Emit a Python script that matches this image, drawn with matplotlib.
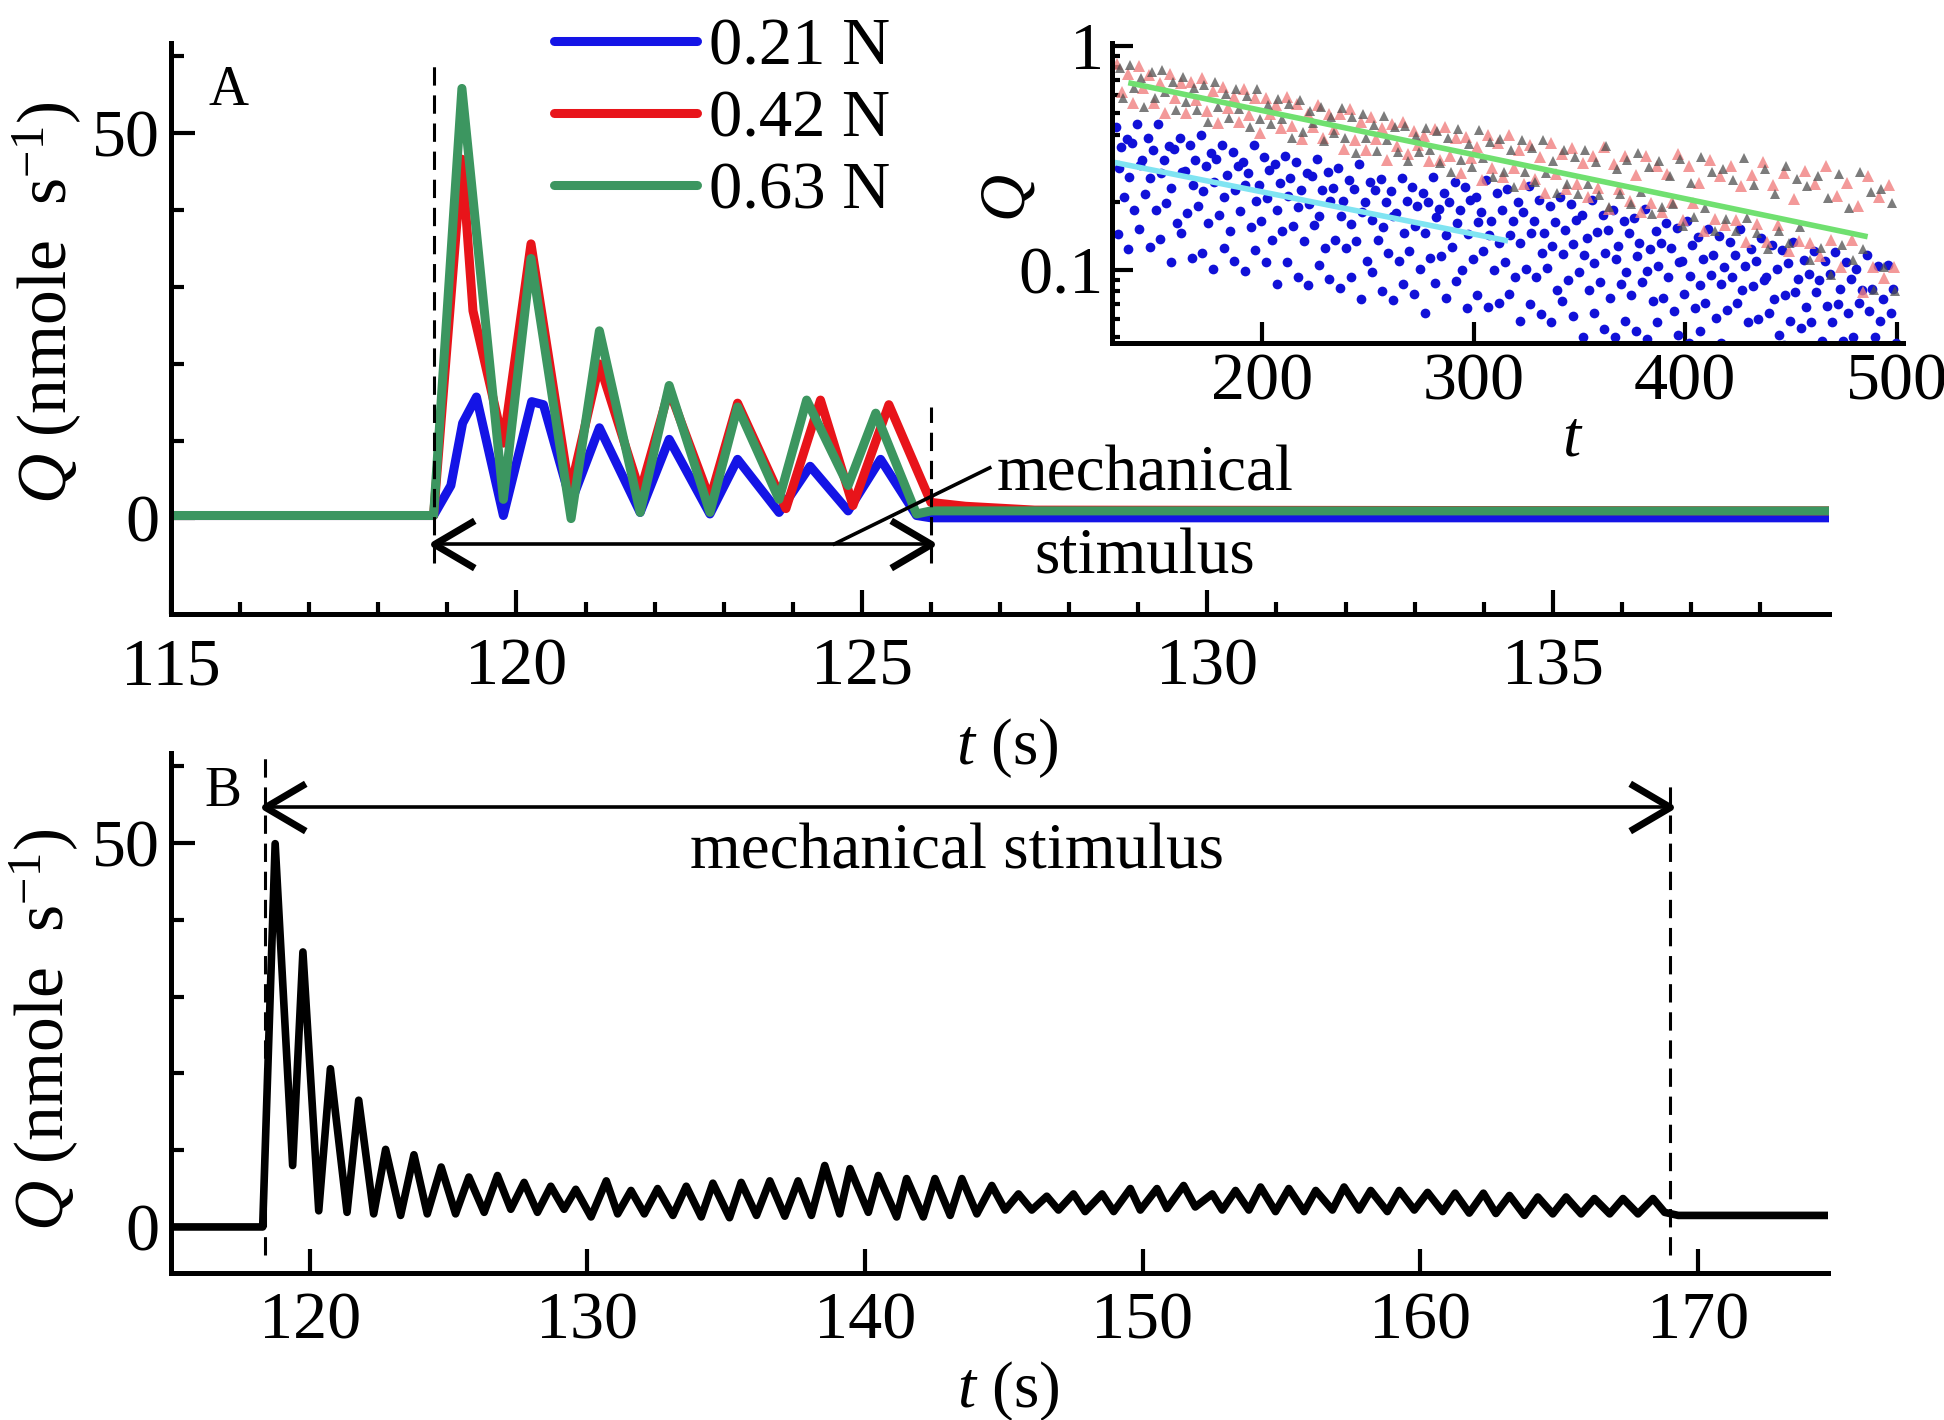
import numpy as np
import matplotlib
matplotlib.use("Agg")
import matplotlib.pyplot as plt
from matplotlib.path import Path
from matplotlib.markers import MarkerStyle
from matplotlib.ticker import FixedLocator, FixedFormatter, NullFormatter, LogLocator

plt.rcParams['font.family'] = ['Liberation Serif', 'DejaVu Serif']
plt.rcParams['mathtext.fontset'] = 'custom'
plt.rcParams['mathtext.rm'] = 'Liberation Serif'
plt.rcParams['mathtext.it'] = 'Liberation Serif:italic'
FS = 47      # annotation / label text
TFS = 49     # tick labels
plt.rcParams['font.size'] = FS

# ---------------- Panel A data (t in s, Q in nmole/s) ----------------
tA_021 = [115, 118.80, 119.05, 119.22, 119.42, 119.81, 120.22, 120.39, 120.79, 121.20,
          121.79, 122.21, 122.80, 123.20, 123.80, 124.25, 124.80, 125.27, 125.79, 126.00, 139]
qA_021 = [0.3, 0.3, 4.2, 12.3, 15.7, 0.3, 15.1, 14.7, 2.0, 11.7,
          0.7, 10.2, 0.5, 7.6, 0.7, 6.7, 0.9, 7.6, 0.3, 0.0, 0.0]

tA_042 = [115, 118.80, 119.21, 119.37, 119.81, 120.21, 120.77, 121.20, 121.79, 122.21,
          122.80, 123.20, 123.90, 124.40, 124.87, 125.39, 126.00, 126.5, 127.5, 139]
qA_042 = [0.3, 0.3, 46.6, 26.9, 9.7, 35.6, 3.3, 20.0, 3.3, 16.6,
          2.4, 14.9, 1.2, 15.3, 1.6, 14.7, 2.0, 1.5, 1.0, 0.9]

tA_063 = [115, 118.80, 119.21, 119.81, 120.21, 120.79, 121.20, 121.79, 122.21, 122.80,
          123.20, 123.80, 124.20, 124.80, 125.20, 125.79, 126.00, 139]
qA_063 = [0.3, 0.3, 55.8, 2.4, 33.7, -0.1, 24.3, 0.7, 17.2, 0.7,
          14.4, 2.4, 15.3, 4.2, 13.6, 0.5, 0.9, 0.9]

legend_labels = ['0.21 N', '0.42 N', '0.63 N']

# ---------------- Panel B data ----------------
tB = [115.0, 118.30, 118.75, 119.38, 119.75, 120.32, 120.74, 121.34, 121.76, 122.30,
      122.73, 123.27, 123.75, 124.23, 124.73, 125.25, 125.73, 126.28, 126.76, 127.24,
      127.72, 128.20, 128.68, 129.16, 129.58, 130.13, 130.68, 131.09, 131.57, 132.05,
      132.53, 133.08, 133.56, 134.10, 134.52, 135.12, 135.54, 136.09, 136.57, 137.11,
      137.59, 138.07, 138.55, 139.09, 139.46, 140.12, 140.48, 141.14, 141.50, 142.10,
      142.52, 143.07, 143.49, 144.03, 144.57, 145.05, 145.53, 146.01, 146.55, 146.97,
      147.51, 147.93, 148.54, 148.96, 149.56, 149.92, 150.52, 150.88, 151.48, 151.90,
      152.51, 152.87, 153.35, 153.83, 154.25, 154.79, 155.27, 155.82, 156.24, 156.84,
      157.26, 157.80, 158.22, 158.82, 159.25, 159.79, 160.27, 160.81, 161.26, 161.77,
      162.28, 162.73, 163.22, 163.76, 164.24, 164.78, 165.26, 165.80, 166.28, 166.83,
      167.31, 167.85, 168.39, 168.81, 169.30, 175.0]
qB = [0.0, 0.0, 49.9, 8.0, 35.8, 2.1, 20.6, 1.9, 16.5, 1.7,
      10.1, 1.5, 9.4, 1.7, 7.8, 1.7, 6.5, 1.9, 6.7, 2.3,
      5.8, 1.9, 5.3, 2.3, 4.9, 1.3, 6.0, 1.7, 4.75, 1.7,
      5.0, 1.5, 5.3, 1.3, 5.7, 1.2, 5.8, 1.5, 6.0, 1.4,
      6.0, 1.5, 8.0, 1.7, 7.6, 1.9, 6.7, 1.3, 6.3, 1.3,
      6.3, 1.5, 6.3, 1.7, 5.4, 2.2, 4.3, 2.2, 4.0, 2.2,
      4.3, 2.0, 4.3, 2.0, 5.0, 2.2, 5.0, 2.4, 5.4, 2.6,
      4.3, 2.2, 4.75, 2.2, 5.2, 2.0, 5.0, 2.0, 4.75, 2.2,
      5.2, 2.2, 4.75, 2.0, 4.75, 2.2, 4.5, 2.0, 4.4, 1.8,
      4.4, 1.75, 4.1, 1.5, 3.9, 1.7, 3.9, 1.7, 3.7, 1.7,
      3.7, 1.7, 3.7, 1.9, 1.5, 1.5]

# ---------------- Inset data (log Q vs t) ----------------
t_step = np.arange(74) * 5.0          # sampling grid of the scatter rows
blue_q1 = [0.435,0.382,0.445,0.388,0.445,0.358,0.389,0.361,0.398,0.333,
           0.362,0.335,0.302,0.361,0.318,0.296,0.321,0.302,0.271,0.311,
           0.273,0.283,0.252,0.296,0.247,0.255,0.224,0.256,0.233,0.220,
           0.260,0.220,0.245,0.234,0.210,0.251,0.220,0.228,0.201,0.237,
           0.205,0.193,0.210,0.197,0.175,0.204,0.175,0.185,0.164,0.170,
           0.187,0.148,0.162,0.153,0.164,0.140,0.151,0.141,0.133,0.152,
           0.124,0.138,0.129,0.122,0.133,0.110,0.121,0.109,0.120,0.108,
           0.101,0.116,0.104,0.105]
blue_q2 = [0.354,0.367,0.310,0.343,0.308,0.344,0.276,0.309,0.290,0.313,
           0.265,0.290,0.270,0.239,0.278,0.244,0.256,0.226,0.261,0.226,
           0.231,0.203,0.230,0.201,0.227,0.201,0.179,0.203,0.192,0.201,
           0.187,0.201,0.185,0.204,0.181,0.164,0.185,0.165,0.180,0.165,
           0.146,0.163,0.150,0.166,0.139,0.147,0.150,0.128,0.146,0.131,
           0.123,0.132,0.125,0.109,0.129,0.112,0.116,0.103,0.116,0.104,
           0.109,0.093,0.101,0.107,0.091,0.096,0.090,0.096,0.082,0.091,
           0.081,0.082,0.074,0.082]
blue_q3 = [0.285,0.258,0.293,0.256,0.269,0.231,0.274,0.239,0.224,0.247,
           0.210,0.226,0.238,0.203,0.208,0.184,0.214,0.190,0.196,0.174,
           0.203,0.173,0.160,0.180,0.167,0.155,0.173,0.145,0.156,0.146,
           0.171,0.142,0.161,0.144,0.163,0.143,0.132,0.143,0.131,0.145,
           0.118,0.128,0.117,0.130,0.116,0.107,0.119,0.111,0.098,0.115,
           0.099,0.104,0.093,0.108,0.094,0.085,0.095,0.086,0.093,0.081,
           0.084,0.090,0.074,0.077,0.079,0.068,0.079,0.069,0.070,0.064,
           0.071,0.065,0.059,0.064]
blue_q4 = [0.210,0.185,0.218,0.185,0.198,0.161,0.179,0.193,0.161,0.175,
           0.149,0.182,0.155,0.165,0.135,0.149,0.157,0.134,0.158,0.125,
           0.136,0.125,0.134,0.109,0.135,0.118,0.109,0.121,0.101,0.113,
           0.115,0.126,0.100,0.111,0.121,0.100,0.108,0.093,0.101,0.093,
           0.102,0.081,0.090,0.098,0.081,0.088,0.075,0.086,0.077,0.088,
           0.072,0.075,0.065,0.078,0.067,0.071,0.061,0.066,0.071,0.058,
           0.060,0.064,0.051,0.059,0.055,0.058,0.048,0.058,0.048,0.050,
           0.045,0.050,0.045,0.047]
blue_q5 = [0.144,0.123,0.152,0.126,0.137,0.108,0.145,0.113,0.118,0.101,
           0.125,0.109,0.099,0.122,0.108,0.086,0.108,0.093,0.085,0.105,
           0.091,0.083,0.093,0.074,0.098,0.080,0.073,0.086,0.078,0.064,
           0.087,0.075,0.089,0.067,0.077,0.068,0.071,0.078,0.059,0.070,
           0.063,0.058,0.072,0.062,0.050,0.064,0.054,0.050,0.059,0.053,
           0.049,0.058,0.043,0.051,0.047,0.053,0.042,0.047,0.037,0.044,
           0.040,0.045,0.036,0.046,0.038,0.035,0.040,0.031,0.037,0.034,
           0.038,0.030,0.034,0.030]
blue_start = [131, 133.4, 132.1, 134.6, 131.8]

red_q1 = [0.826,0.746,0.811,0.743,0.683,0.744,0.680,0.691,0.715,0.629,
          0.652,0.589,0.641,0.586,0.584,0.544,0.590,0.550,0.498,0.541,
          0.495,0.494,0.520,0.458,0.479,0.429,0.449,0.456,0.417,0.396,
          0.423,0.434,0.386,0.392,0.353,0.399,0.368,0.400,0.341,0.359,
          0.319,0.367,0.328,0.348,0.300,0.322,0.352,0.296,0.321,0.264,
          0.322,0.290,0.268,0.329,0.291,0.244,0.308,0.262,0.290,0.237,
          0.264,0.301,0.238,0.270,0.206,0.277,0.240,0.291,0.213,0.243,
          0.192,0.262,0.210,0.238]
red_q2 = [0.623,0.554,0.650,0.556,0.500,0.582,0.503,0.572,0.512,0.454,
          0.528,0.456,0.490,0.408,0.495,0.431,0.440,0.385,0.434,0.386,
          0.426,0.346,0.378,0.342,0.383,0.310,0.356,0.328,0.360,0.304,
          0.309,0.322,0.271,0.316,0.250,0.285,0.260,0.284,0.241,0.255,
          0.220,0.267,0.230,0.240,0.212,0.231,0.186,0.229,0.203,0.180,
          0.199,0.181,0.200,0.166,0.198,0.149,0.169,0.158,0.167,0.133,
          0.159,0.133,0.158,0.121,0.134,0.131,0.115,0.135,0.103,0.135,
          0.079,0.103,0.092,0.103]
black_q1 = [0.795,0.822,0.715,0.764,0.782,0.689,0.728,0.645,0.670,0.692,
            0.609,0.643,0.594,0.638,0.545,0.577,0.547,0.571,0.513,0.531,
            0.480,0.527,0.482,0.495,0.443,0.486,0.432,0.440,0.397,0.428,
            0.414,0.389,0.423,0.365,0.419,0.370,0.382,0.342,0.380,0.349,
            0.378,0.307,0.343,0.317,0.342,0.301,0.357,0.280,0.309,0.331,
            0.288,0.307,0.263,0.311,0.243,0.317,0.272,0.281,0.252,0.315,
            0.238,0.282,0.218,0.291,0.253,0.236,0.261,0.209,0.268,0.188,
            0.274,0.221,0.230,0.199]
black_q2 = [0.585,0.646,0.532,0.583,0.621,0.514,0.561,0.516,0.457,0.531,
            0.475,0.523,0.432,0.471,0.447,0.471,0.387,0.411,0.453,0.374,
            0.408,0.387,0.332,0.387,0.339,0.380,0.335,0.307,0.335,0.343,
            0.299,0.273,0.309,0.288,0.314,0.258,0.273,0.233,0.274,0.247,
            0.269,0.219,0.241,0.217,0.242,0.216,0.190,0.218,0.196,0.222,
            0.178,0.191,0.197,0.156,0.172,0.189,0.149,0.168,0.149,0.170,
            0.146,0.123,0.149,0.131,0.155,0.110,0.125,0.095,0.129,0.110,
            0.124,0.081,0.103,0.080]
red_start = [131.6, 133.9]
black_start = [132.7, 134.2]

fit_high_t = [138, 485]
fit_high_q = [0.68, 0.141]
fit_low_t = [131, 315]
fit_low_q = [0.30, 0.135]

# ---------------- Figure ----------------
fig = plt.figure(figsize=(19.44, 14.2), dpi=100)
axA = fig.add_axes([0.088, 0.5676, 0.8529, 0.4021])
axB = fig.add_axes([0.088, 0.1035, 0.8524, 0.3662])
axI = fig.add_axes([0.572, 0.7585, 0.4069, 0.2113])
for ax in (axA, axB, axI):
    ax.set_facecolor('none')


def style(ax, xpad, ypad, maj=17, mino=9):
    for s in ['top', 'right']:
        ax.spines[s].set_visible(False)
    for s in ['left', 'bottom']:
        ax.spines[s].set_linewidth(3.6)
    ax.tick_params(which='both', direction='in', width=3, labelsize=TFS)
    ax.tick_params(which='major', length=maj)
    ax.tick_params(which='minor', length=mino)
    ax.tick_params(axis='x', which='both', pad=xpad)
    ax.tick_params(axis='y', which='both', pad=ypad)


DASH = (6.0, 3.2)
HEAD_L = MarkerStyle(Path([(1.7, 1.0), (0.0, 0.0), (1.7, -1.0)]), fillstyle='none', joinstyle='miter')
HEAD_R = MarkerStyle(Path([(-1.7, 1.0), (0.0, 0.0), (-1.7, -1.0)]), fillstyle='none', joinstyle='miter')


def double_arrow(ax, x0, x1, y):
    ax.plot([x0, x1], [y, y], color='k', lw=2.6, solid_capstyle='butt')
    ax.plot([x0], [y], marker=HEAD_L, ms=58, mew=5.0, color='k', linestyle='none')
    ax.plot([x1], [y], marker=HEAD_R, ms=58, mew=5.0, color='k', linestyle='none')


YLAB = r'$Q$ (nmole  s$^{-1}$)'

# ---- Panel A ----
kw = dict(lw=6.5, solid_joinstyle='round', solid_capstyle='round')
lb, = axA.plot(tA_021, qA_021, color='#1414e6', label=legend_labels[0], **kw)
lr, = axA.plot(tA_042, qA_042, color='#e8141a', label=legend_labels[1], **kw)
lg, = axA.plot(tA_063, qA_063, color='#3c9660', label=legend_labels[2], **kw)
axA.set_xlim(115, 139)
axA.set_ylim(-12.5, 61.7)
axA.xaxis.set_major_locator(FixedLocator([115, 120, 125, 130, 135]))
axA.xaxis.set_minor_locator(FixedLocator(np.arange(116, 139, 1)))
axA.yaxis.set_major_locator(FixedLocator([0, 50]))
axA.yaxis.set_minor_locator(FixedLocator([10, 20, 30, 40, 60]))
style(axA, 17, 8)
axA.plot([118.8, 118.8], [-5.9, 59.8], color='k', lw=2.2, dashes=DASH)
axA.plot([126.0, 126.0], [-5.9, 14.4], color='k', lw=2.2, dashes=DASH)
double_arrow(axA, 118.8, 126.0, -3.4)
axA.plot([124.6, 126.85], [-3.4, 6.5], color='k', lw=2.6)
axA.text(129.1, 3.6, 'mechanical', ha='center', va='baseline', fontsize=FS)
axA.text(129.1, -7.3, 'stimulus', ha='center', va='baseline', fontsize=FS)
axA.text(115.83, 53.6, 'A', ha='center', va='baseline', fontsize=40)
axA.set_ylabel(YLAB, fontsize=50)
axA.yaxis.set_label_coords(-0.0525, 0.544)
axA.set_xlabel(r'$t$ (s)', fontsize=FS)
axA.xaxis.set_label_coords(0.504, -0.178)
axA.legend(handles=[lb, lr, lg], loc='center left', bbox_to_anchor=(0.285, 0.9155),
           bbox_transform=fig.transFigure, frameon=False, fontsize=48,
           handlelength=2.15, handletextpad=0.18, labelspacing=0.17,
           borderpad=0, borderaxespad=0)

# ---- Panel B ----
axB.plot(tB, qB, color='k', lw=5.5, solid_joinstyle='round')
axB.set_xlim(115, 174.7)
axB.set_ylim(-6, 61.7)
axB.xaxis.set_major_locator(FixedLocator([120, 130, 140, 150, 160, 170]))
axB.yaxis.set_major_locator(FixedLocator([0, 50]))
axB.yaxis.set_minor_locator(FixedLocator([10, 20, 30, 40, 60]))
style(axB, 13, 8)
axB.plot([118.4, 118.4], [-3.6, 61.7], color='k', lw=2.2, dashes=DASH)
axB.plot([169.0, 169.0], [-3.6, 58.4], color='k', lw=2.2, dashes=DASH)
double_arrow(axB, 118.4, 169.0, 54.7)
axB.text(143.3, 46.7, 'mechanical stimulus', ha='center', va='baseline', fontsize=FS)
axB.text(116.87, 54.8, 'B', ha='center', va='baseline', fontsize=40)
axB.set_ylabel(YLAB, fontsize=50)
axB.yaxis.set_label_coords(-0.0543, 0.468)
axB.set_xlabel(r'$t$ (s)', fontsize=FS)
axB.xaxis.set_label_coords(0.505, -0.165)

# ---- Inset ----
for start, q in zip(blue_start, [blue_q1, blue_q2, blue_q3, blue_q4, blue_q5]):
    axI.plot(start + t_step, q, linestyle='none', marker='o', ms=7,
             color='#1010d8', markeredgewidth=0)
for start, q in zip(red_start, [red_q1, red_q2]):
    axI.plot(start + t_step, q, linestyle='none', marker='^', ms=8.5,
             color='#f08080', alpha=0.8, markeredgewidth=0)
for start, q in zip(black_start, [black_q1, black_q2]):
    axI.plot(start + t_step, q, linestyle='none', marker='^', ms=7.5,
             color='#505050', alpha=0.75, markeredgewidth=0)
axI.plot(fit_high_t, fit_high_q, color='#70e070', lw=4)
axI.plot(fit_low_t, fit_low_q, color='#80e4f2', lw=4)
axI.set_yscale('log')
axI.set_xlim(129, 503)
axI.set_ylim(0.047, 1.03)
axI.xaxis.set_major_locator(FixedLocator([200, 300, 400, 500]))
axI.xaxis.set_minor_locator(FixedLocator([]))
axI.yaxis.set_major_locator(FixedLocator([0.1, 1]))
axI.yaxis.set_major_formatter(FixedFormatter(['0.1', '1']))
axI.yaxis.set_minor_locator(LogLocator(base=10, subs=np.arange(2, 10)))
axI.yaxis.set_minor_formatter(NullFormatter())
style(axI, 7, 6, maj=15, mino=6)
axI.set_ylabel(r'$Q$', fontsize=FS)
axI.yaxis.set_label_coords(-0.093, 0.483)
axI.set_xlabel(r'$t$', fontsize=FS)
axI.xaxis.set_label_coords(0.582, -0.225)

fig.savefig('out.png', dpi=100)
